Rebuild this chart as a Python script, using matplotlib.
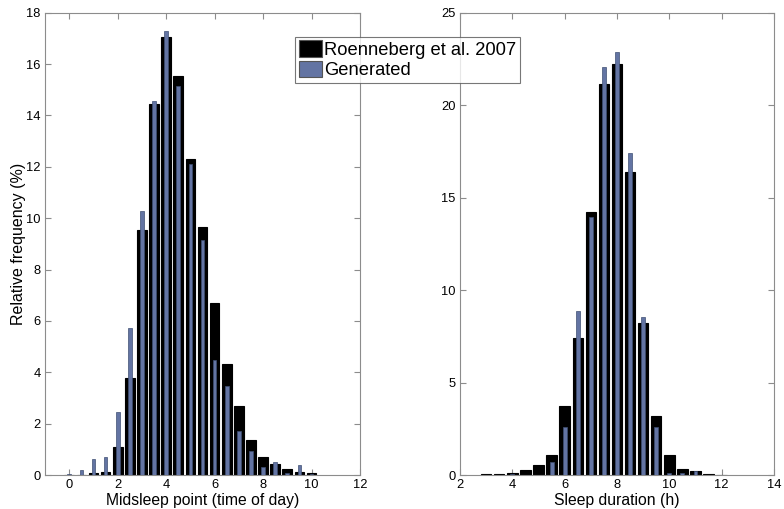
import numpy as np
import matplotlib
matplotlib.use("Agg")
import matplotlib.pyplot as plt
from matplotlib.patches import Patch

plt.rcParams['font.family'] = ['Liberation Sans', 'DejaVu Sans']

# Midsleep point histogram (time of day, 0.5 h bins)
mid_bins = [0, 0.5, 1, 1.5, 2, 2.5, 3, 3.5, 4, 4.5, 5, 5.5, 6, 6.5, 7, 7.5, 8, 8.5, 9, 9.5, 10]
mid_roenneberg = [0.0, 0.0, 0.06, 0.10, 1.08, 3.76, 9.53, 14.45, 17.04, 15.53, 12.32, 9.65,
                  6.71, 4.31, 2.70, 1.36, 0.69, 0.43, 0.22, 0.12, 0.06]
mid_generated = [0.05, 0.19, 0.61, 0.71, 2.44, 5.71, 10.27, 14.55, 17.30, 15.14, 12.09, 9.14,
                 4.47, 3.46, 1.73, 0.92, 0.30, 0.52, 0.09, 0.40, 0.05]

# Sleep duration histogram (hours, 0.5 h bins)
dur_bins = [3, 3.5, 4, 4.5, 5, 5.5, 6, 6.5, 7, 7.5, 8, 8.5, 9, 9.5, 10, 10.5, 11, 11.5, 12]
dur_roenneberg = [0.05, 0.05, 0.13, 0.27, 0.52, 1.06, 3.71, 7.39, 14.23, 21.17, 22.20, 16.40,
                  8.22, 3.17, 1.06, 0.34, 0.22, 0.05, 0.0]
dur_generated = [0.0, 0.0, 0.05, 0.0, 0.0, 0.70, 2.61, 8.85, 13.93, 22.09, 22.88, 17.39,
                 8.56, 2.61, 0.13, 0.10, 0.20, 0.0, 0.0]

BLUE = '#6374a3'
BLUE_EDGE = '#3f4f73'
SPINE = '#8c8c8c'

fig = plt.figure(figsize=(7.84, 5.09), dpi=100)
ax1 = fig.add_axes([45 / 784, 34 / 509, 315 / 784, 462.3 / 509])
ax2 = fig.add_axes([460 / 784, 34 / 509, 314 / 784, 462.3 / 509])


def draw(ax, bins, ref, gen, xlim, ylim, xticks, yticks, xlabel):
    ax.bar(bins, ref, width=0.4, color='black', edgecolor='black', linewidth=0.8, zorder=2)
    ax.bar(bins, gen, width=0.15, color=BLUE, edgecolor=BLUE_EDGE, linewidth=0.5, zorder=3)
    ax.set_xlim(*xlim)
    ax.set_ylim(*ylim)
    ax.set_xticks(xticks)
    ax.set_yticks(yticks)
    ax.tick_params(direction='in', top=True, right=True, length=4, width=0.8,
                   color=SPINE, labelsize=9.3, pad=3)
    for s in ax.spines.values():
        s.set_color(SPINE)
        s.set_linewidth(0.8)
    ax.set_xlabel(xlabel, fontsize=11.3, labelpad=1)


draw(ax1, mid_bins, mid_roenneberg, mid_generated, (-1, 12), (0, 18),
     np.arange(0, 13, 2), np.arange(0, 19, 2), 'Midsleep point (time of day)')
ax1.set_ylabel('Relative frequency (%)', fontsize=11.5, labelpad=0.5)

draw(ax2, dur_bins, dur_roenneberg, dur_generated, (2, 14), (0, 25),
     np.arange(2, 15, 2), np.arange(0, 26, 5), 'Sleep duration (h)')

handles = [Patch(facecolor='black', edgecolor='#555555', linewidth=0.8),
           Patch(facecolor=BLUE, edgecolor='#555555', linewidth=0.8)]
leg = fig.legend(handles, ['Roenneberg et al. 2007', 'Generated'],
                 loc='upper left', bbox_to_anchor=(295 / 784, 1 - 36.7 / 509),
                 frameon=True, fancybox=False, fontsize=13.2, handlelength=1.25,
                 handleheight=1.0, handletextpad=0.15, borderpad=0.2,
                 labelspacing=0.1, borderaxespad=0)
leg.get_frame().set_edgecolor('#555555')
leg.get_frame().set_linewidth(0.8)

fig.savefig('out.png', dpi=100)
